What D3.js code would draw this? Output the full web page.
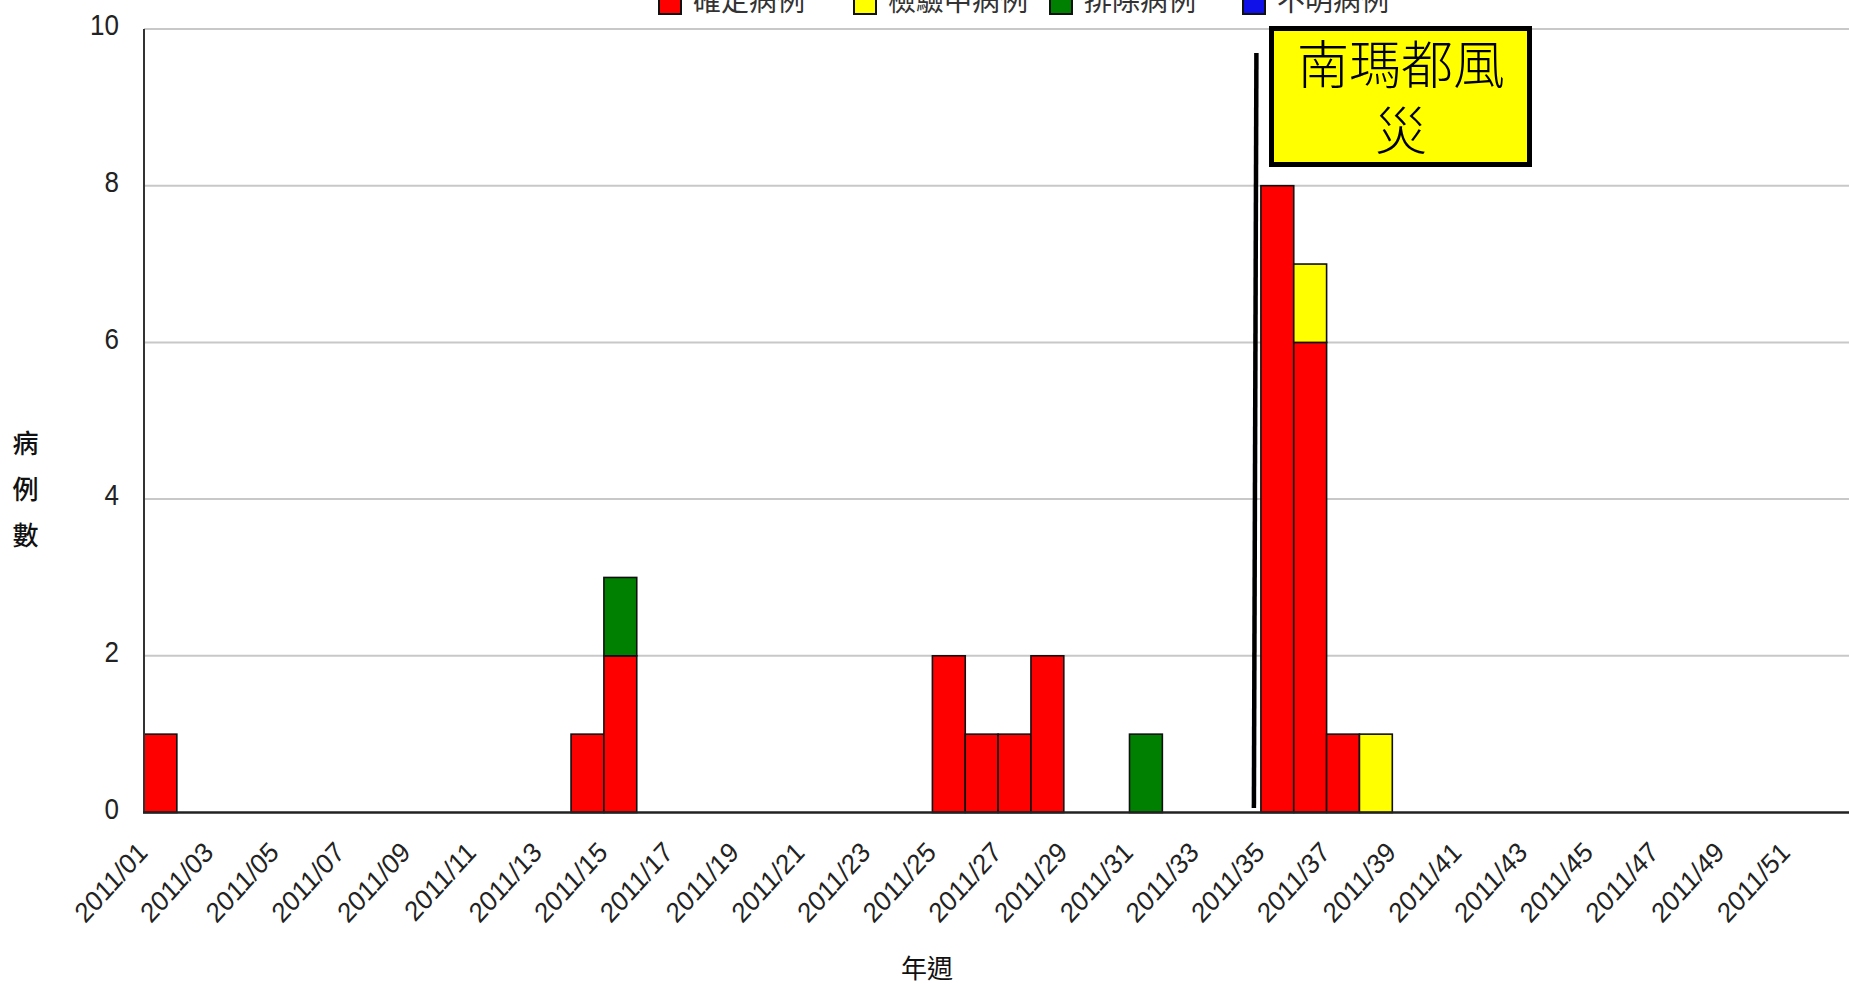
<!DOCTYPE html>
<html>
<head>
<meta charset="utf-8">
<script src="https://cdn.jsdelivr.net/npm/d3@7/dist/d3.min.js"></script>
<style>
  html, body { margin: 0; padding: 0; background: #fff; overflow: hidden; }
  svg { display: block; }
</style>
</head>
<body>
<svg id="chart" width="1849" height="984"></svg>
<script>
// Weekly case counts, 2011 (weeks 1–52)
const weeks = d3.range(1, 53).map(w => "2011/" + String(w).padStart(2, "0"));

const confirmed = [
  1,0,0,0,0,0,0,0,0,0,
  0,0,0,1,2,0,0,0,0,0,
  0,0,0,0,2,1,1,2,0,0,
  0,0,0,0,8,6,1,0,0,0,
  0,0,0,0,0,0,0,0,0,0,
  0,0
];
const testing = [
  0,0,0,0,0,0,0,0,0,0,
  0,0,0,0,0,0,0,0,0,0,
  0,0,0,0,0,0,0,0,0,0,
  0,0,0,0,0,1,0,1,0,0,
  0,0,0,0,0,0,0,0,0,0,
  0,0
];
const excluded = [
  0,0,0,0,0,0,0,0,0,0,
  0,0,0,0,1,0,0,0,0,0,
  0,0,0,0,0,0,0,0,0,0,
  1,0,0,0,0,0,0,0,0,0,
  0,0,0,0,0,0,0,0,0,0,
  0,0
];
const unknown = [
  0,0,0,0,0,0,0,0,0,0,
  0,0,0,0,0,0,0,0,0,0,
  0,0,0,0,0,0,0,0,0,0,
  0,0,0,0,0,0,0,0,0,0,
  0,0,0,0,0,0,0,0,0,0,
  0,0
];

const seriesNames = ["確定病例", "檢驗中病例", "排除病例", "不明病例"];
const seriesColors = ["#ff0000", "#ffff00", "#008000", "#1010e8"];
const yTicks = [0, 2, 4, 6, 8, 10];
const xTickLabels = [
  "2011/01","2011/03","2011/05","2011/07","2011/09","2011/11","2011/13",
  "2011/15","2011/17","2011/19","2011/21","2011/23","2011/25","2011/27",
  "2011/29","2011/31","2011/33","2011/35","2011/37","2011/39","2011/41",
  "2011/43","2011/45","2011/47","2011/49","2011/51"
];
const eventWeek = "2011/35";
const eventLabel = ["南瑪都風", "災"];
const yTitle = ["病", "例", "數"];
const xTitle = "年週";

// ---- layout ----
const plotLeft = 144, bandW = 32.85;
const plotTop = 29, plotBottom = 812.5;
const W = 1849;

const svg = d3.select("#chart");
const cjk = "'Noto Sans CJK TC', 'Noto Sans CJK SC', sans-serif";
const latin = "'Liberation Sans', Arial, sans-serif";

const x = d3.scaleBand().domain(weeks)
  .range([plotLeft, plotLeft + bandW * weeks.length]).padding(0);
const y = d3.scaleLinear().domain([0, 10]).range([plotBottom, plotTop]);

// gridlines
svg.append("g").selectAll("line")
  .data(yTicks.filter(v => v > 0))
  .join("line")
  .attr("x1", plotLeft).attr("x2", W)
  .attr("y1", d => y(d)).attr("y2", d => y(d))
  .attr("stroke", "#c8c8c8").attr("stroke-width", 2);

// stacked bars
const rows = weeks.map((w, i) => ({
  week: w, s0: confirmed[i], s1: testing[i], s2: excluded[i], s3: unknown[i]
}));
const stack = d3.stack().keys(["s0", "s1", "s2", "s3"])(rows);

svg.append("g").selectAll("g")
  .data(stack)
  .join("g")
  .attr("fill", (d, i) => seriesColors[i])
  .selectAll("rect")
  .data(d => d.filter(p => p[1] - p[0] > 0))
  .join("rect")
  .attr("x", p => x(p.data.week))
  .attr("width", x.bandwidth())
  .attr("y", p => y(p[1]))
  .attr("height", p => y(p[0]) - y(p[1]))
  .attr("stroke", "#111").attr("stroke-width", 1.6);

// axes lines
svg.append("line")
  .attr("x1", plotLeft).attr("x2", plotLeft)
  .attr("y1", plotTop).attr("y2", plotBottom)
  .attr("stroke", "#333").attr("stroke-width", 2);
svg.append("line")
  .attr("x1", plotLeft - 1).attr("x2", W)
  .attr("y1", plotBottom).attr("y2", plotBottom)
  .attr("stroke", "#222").attr("stroke-width", 2.5);

// y tick labels (glyphs slightly tall)
svg.append("g").selectAll("text")
  .data(yTicks)
  .join("text")
  .attr("transform", d => `translate(119,${y(d) - 4}) scale(1,1.1)`)
  .attr("dy", "0.36em")
  .attr("text-anchor", "end")
  .attr("font-family", latin)
  .attr("font-size", 26)
  .attr("fill", "#222")
  .text(d => d);

// x tick labels (rotated)
svg.append("g").selectAll("text")
  .data(xTickLabels)
  .join("text")
  .attr("text-anchor", "end")
  .attr("transform", d => `translate(${x(d) + 5},854) scale(1,1.1) rotate(-45)`)
  .attr("font-family", latin)
  .attr("font-size", 25.5)
  .attr("fill", "#222")
  .text(d => d);

// axis titles
svg.append("g").selectAll("text")
  .data(yTitle)
  .join("text")
  .attr("x", 25.5)
  .attr("y", (d, i) => 444 + i * 46)
  .attr("dy", "0.36em")
  .attr("text-anchor", "middle")
  .attr("font-family", cjk)
  .attr("font-size", 26)
  .attr("font-weight", 500)
  .attr("fill", "#111")
  .text(d => d);

svg.append("text")
  .attr("x", 927).attr("y", 969)
  .attr("dy", "0.36em")
  .attr("text-anchor", "middle")
  .attr("font-family", cjk)
  .attr("font-size", 26)
  .attr("fill", "#111")
  .text(xTitle);

// legend (top, partly clipped by the frame edge)
const legendX = [658, 853, 1049, 1242];
const lg = svg.append("g").selectAll("g")
  .data(seriesNames)
  .join("g")
  .attr("transform", (d, i) => `translate(${legendX[i]},0)`);
lg.append("rect")
  .attr("x", 1).attr("y", -8).attr("width", 22).attr("height", 22)
  .attr("fill", (d, i) => seriesColors[i])
  .attr("stroke", "#111").attr("stroke-width", 2);
lg.append("text")
  .attr("x", 35).attr("y", 11)
  .attr("font-family", cjk)
  .attr("font-size", 28)
  .attr("fill", "#333")
  .text(d => d);

// typhoon marker line and callout
const ex = x(eventWeek) - 6;
svg.append("line")
  .attr("x1", ex + 1.5).attr("y1", 53)
  .attr("x2", ex - 1).attr("y2", 808)
  .attr("stroke", "#000").attr("stroke-width", 4.5);

const box = svg.append("g");
box.append("rect")
  .attr("x", 1271.5).attr("y", 28.5).attr("width", 258).attr("height", 136)
  .attr("fill", "#ffff00").attr("stroke", "#000").attr("stroke-width", 5);
box.append("text")
  .attr("text-anchor", "middle")
  .attr("font-family", cjk)
  .attr("font-size", 52)
  .attr("font-weight", 300)
  .attr("fill", "#000")
  .selectAll("tspan")
  .data(eventLabel)
  .join("tspan")
  .attr("x", 1401)
  .attr("y", (d, i) => 84 + i * 66)
  .text(d => d);
</script>
</body>
</html>
